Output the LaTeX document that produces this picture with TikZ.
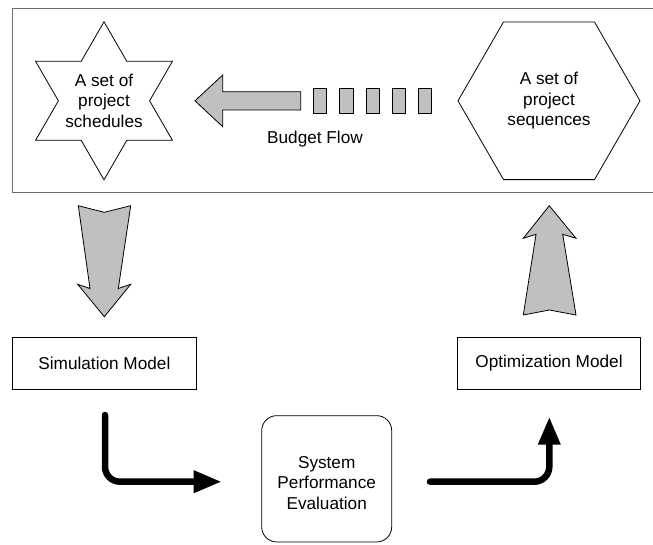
\documentclass[tikz,border=0pt]{standalone}
\usepackage{fontspec}
\setmainfont{Liberation Sans}
\usetikzlibrary{arrows.meta,shapes.geometric,calc}

\tikzset{
  lbl/.style={font=\fontsize{17.2pt}{20.6pt}\selectfont, align=center, inner sep=0pt},
  shapeline/.style={draw=black, line width=0.8pt},
  grayfill/.style={shapeline, fill=graybar},
  modelbox/.style={shapeline, lbl, minimum width=183.5pt, minimum height=52pt},
  flowarrow/.style={line width=6.5pt, line cap=round, rounded corners=15pt,
    -{Triangle[length=28pt,width=21pt]}}
}
\definecolor{graybar}{HTML}{C0C0C0}
\definecolor{framegray}{HTML}{6A6A6A}

\begin{document}
\begin{tikzpicture}[x=1pt,y=-1pt]
  \useasboundingbox (0,0) rectangle (653,544);

  % outer frame around the budget-flow stage
  \draw[framegray, line width=1.5pt] (12.7,8.3) rectangle (660,192.7);

  % six-pointed star holding the schedules
  \coordinate (starc) at (104,100.8);
  \draw[shapeline, fill=white]
    ($(starc)+(90:79)$) -- ($(starc)+(120:45.6)$) -- ($(starc)+(150:79)$)
    -- ($(starc)+(180:45.6)$) -- ($(starc)+(210:79)$) -- ($(starc)+(240:45.6)$)
    -- ($(starc)+(270:79)$) -- ($(starc)+(300:45.6)$) -- ($(starc)+(330:79)$)
    -- ($(starc)+(0:45.6)$) -- ($(starc)+(30:79)$) -- ($(starc)+(60:45.6)$) -- cycle;
  \node[lbl] (sched) at (starc) {A set of\\project\\schedules};

  % hexagon holding the sequences
  \node[regular polygon, regular polygon sides=6, minimum size=182pt,
        inner sep=0pt, shapeline] (seqhex) at (549,100.8) {};
  \node[lbl] (seq) at (seqhex.center) {A set of\\project\\sequences};

  % budget flow: block arrow fed by a row of bars
  \draw[grayfill] (195,100.8) -- (222.7,75) -- (222.7,91.7) -- (300.7,91.7)
    -- (300.7,110) -- (222.7,110) -- (222.7,126.7) -- cycle;
  \foreach \i/\xc in {1/320, 2/346.3, 3/372.6, 4/398.9, 5/425.2}
    \node[grayfill, minimum width=13.3pt, minimum height=25pt, inner sep=0pt]
      (bar\i) at (\xc,100.8) {};
  \node[lbl] (budget) at (315,139) {Budget Flow};

  % schedules go down into the simulation
  \draw[grayfill] (78.3,205.7) -- (104.3,212.3) -- (130.7,205.7) -- (118.3,288.5)
    -- (130.7,284.3) -- (104.3,316.7) -- (77.7,284.3) -- (90,288.5) -- cycle;

  % optimization feeds the sequences back up
  \draw[grayfill] (549.3,205.7) -- (576,238.3) -- (562.7,234.3) -- (576,315)
    -- (549.3,310) -- (523.3,315) -- (536,234.3) -- (523.3,238.3) -- cycle;

  % model boxes
  \node[modelbox] (sim) at (104.4,363) {Simulation Model};
  \node[modelbox] (opt) at (549,363) {Optimization Model};

  % evaluation box
  \node[shapeline, rounded corners=15pt, minimum width=130pt,
        minimum height=126.3pt] (evalbox) at (326.7,478.8) {};
  \node[lbl] (eval) at (326.7,482.7) {System\\Performance\\Evaluation};

  % thick flow arrows between the models and the evaluation
  \coordinate (s1) at (105,415);
  \coordinate (e1) at (221.7,481.7);
  \draw[flowarrow] (s1) |- (e1);
  \coordinate (s2) at (430,481.7);
  \coordinate (e2) at (549.3,416.7);
  \draw[flowarrow] (s2) -| (e2);
\end{tikzpicture}
\end{document}
